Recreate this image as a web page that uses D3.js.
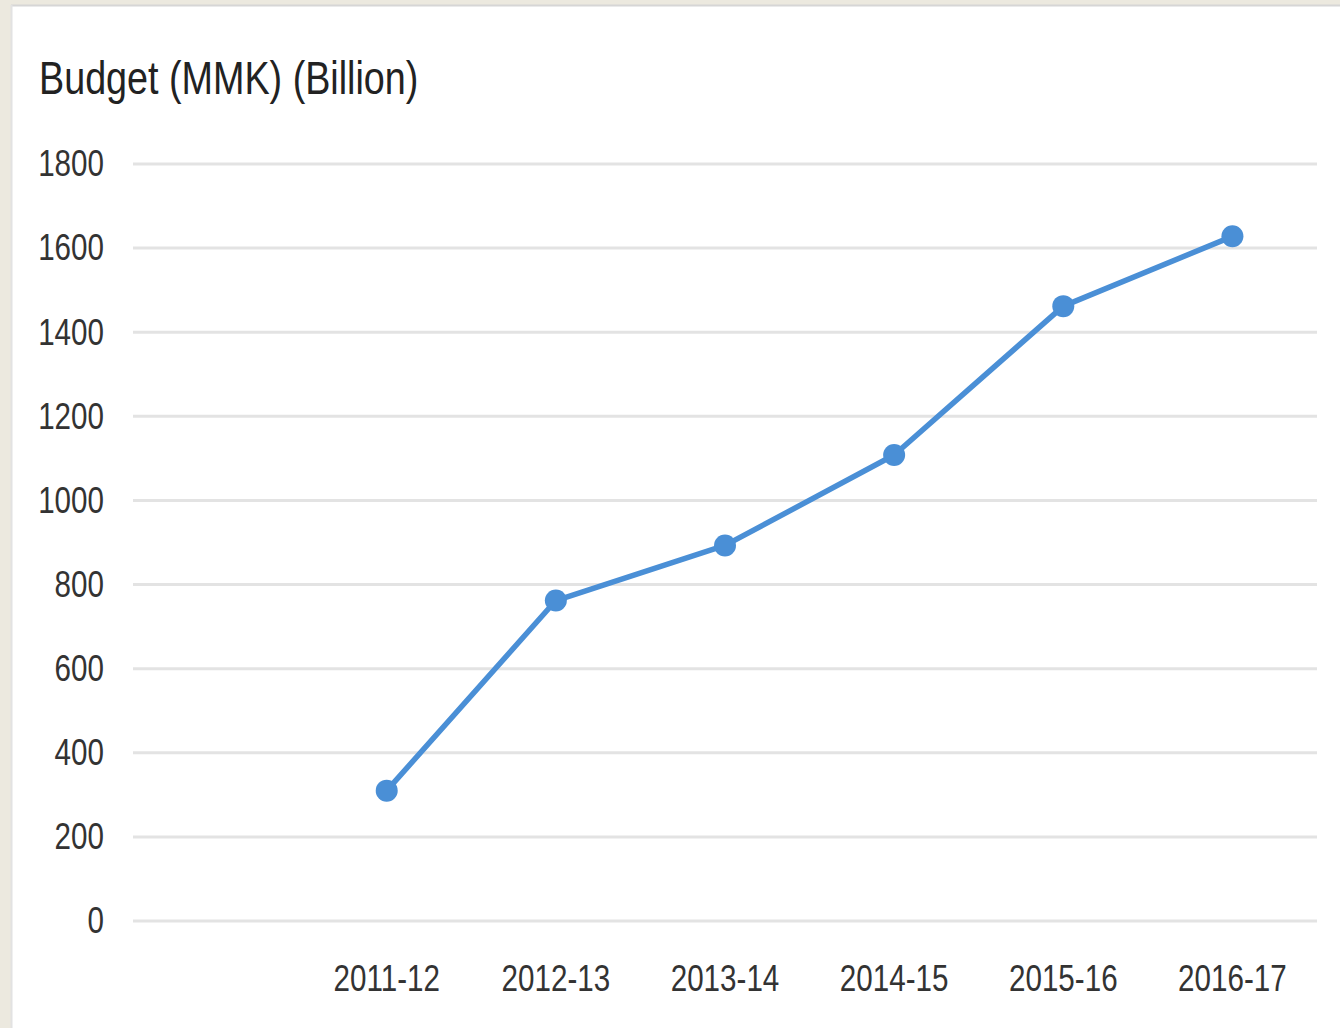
<!DOCTYPE html>
<html>
<head>
<meta charset="utf-8">
<script src="https://cdn.jsdelivr.net/npm/d3@7"></script>
<style>
  body { margin: 0; background: #ece9df; }
  #chart { width: 1340px; height: 1028px; }
</style>
</head>
<body>
<div id="chart"></div>
<script>
const width = 1340;
const height = 1028;

// values (first slot is empty in the original)
const categories = ["", "2011-12", "2012-13", "2013-14", "2014-15", "2015-16", "2016-17"];
const budget = [null, 310, 762, 893, 1108, 1462, 1628];
const yTicks = [0, 200, 400, 600, 800, 1000, 1200, 1400, 1600, 1800];

const svg = d3.select("#chart")
  .append("svg")
  .attr("width", width)
  .attr("height", height);

// white card over the beige page
svg.append("rect")
  .attr("x", 11).attr("y", 5)
  .attr("width", width - 11).attr("height", height - 5)
  .attr("fill", "#fff");
svg.append("line")
  .attr("x1", 11).attr("x2", width)
  .attr("y1", 5.5).attr("y2", 5.5)
  .attr("stroke", "#d6d6d6").attr("stroke-width", 2);
svg.append("line")
  .attr("x1", 11.5).attr("x2", 11.5)
  .attr("y1", 5).attr("y2", height)
  .attr("stroke", "#e2e2e2").attr("stroke-width", 2);

const margin = { left: 133, right: 23, top: 164, bottom: 107 };

const x = d3.scaleBand()
  .domain(categories)
  .range([margin.left, width - margin.right])
  .padding(0);

const y = d3.scaleLinear()
  .domain([0, 1800])
  .range([height - margin.bottom, margin.top]);

const font = "'Liberation Sans', Arial, sans-serif";

// squeeze text horizontally to get the condensed look of the original
function condense(sel, k) {
  sel.each(function () {
    const w = this.getComputedTextLength();
    if (w > 0) {
      d3.select(this)
        .attr("textLength", w * k)
        .attr("lengthAdjust", "spacingAndGlyphs");
    }
  });
}

// gridlines
svg.append("g")
  .selectAll("line")
  .data(yTicks)
  .enter().append("line")
  .attr("x1", margin.left)
  .attr("x2", width - margin.right)
  .attr("y1", d => y(d))
  .attr("y2", d => y(d))
  .attr("stroke", "#e3e3e3")
  .attr("stroke-width", 3);

// y axis labels
const yAxis = d3.axisLeft(y).tickValues(yTicks).tickFormat(d3.format("d")).tickSize(0).tickPadding(29);
svg.append("g")
  .attr("transform", `translate(${margin.left},0)`)
  .call(yAxis)
  .call(g => g.select(".domain").remove())
  .selectAll("text")
  .attr("font-family", font)
  .attr("font-size", 37)
  .attr("fill", "#333")
  .call(condense, 0.8);

// x axis labels
const xAxis = d3.axisBottom(x).tickSize(0).tickPadding(44);
svg.append("g")
  .attr("transform", `translate(0,${height - margin.bottom})`)
  .call(xAxis)
  .call(g => g.select(".domain").remove())
  .selectAll("text")
  .attr("font-family", font)
  .attr("font-size", 37)
  .attr("fill", "#333")
  .call(condense, 0.8);

// title
svg.append("text")
  .attr("x", 39)
  .attr("y", 94)
  .attr("font-family", font)
  .attr("font-size", 46)
  .attr("fill", "#222")
  .text("Budget (MMK) (Billion)")
  .call(condense, 0.82);

// the line
const points = categories.map((c, i) => ({ c, v: budget[i] })).filter(d => d.v != null);
const line = d3.line()
  .x(d => x(d.c) + x.bandwidth() / 2)
  .y(d => y(d.v));

svg.append("path")
  .datum(points)
  .attr("d", line)
  .attr("fill", "none")
  .attr("stroke", "#4a8fd6")
  .attr("stroke-width", 5.5)
  .attr("stroke-linejoin", "round");

svg.selectAll(".dot")
  .data(points)
  .enter().append("circle")
  .attr("class", "dot")
  .attr("cx", d => x(d.c) + x.bandwidth() / 2)
  .attr("cy", d => y(d.v))
  .attr("r", 11)
  .attr("fill", "#4a8fd6");
</script>
</body>
</html>
